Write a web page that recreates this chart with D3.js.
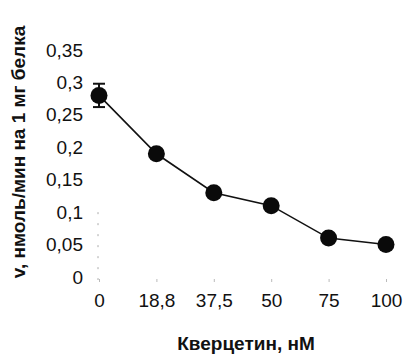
<!DOCTYPE html>
<html lang="ru">
<head>
<meta charset="UTF-8">
<title>Кверцетин</title>
<script src="https://cdn.jsdelivr.net/npm/d3@7/dist/d3.min.js"></script>
<style>
  body { margin: 0; background: #fff; }
  svg { display: block; font-family: "Liberation Sans", Arial, sans-serif; }
  .tick text { font-size: 19px; fill: #111; }
  .title { font-size: 19px; font-weight: bold; fill: #111; }
</style>
</head>
<body>
<svg id="chart"></svg>
<script>
// concentrations (категории по оси X)
const categories = ["0", "18,8", "37,5", "50", "75", "100"];
// скорость, нмоль/мин на 1 мг белка
const values = [0.28, 0.19, 0.13, 0.11, 0.06, 0.05];
const errors = [0.018, 0.006, 0.004, 0.004, 0.004, 0.003];
const yTicks = [0, 0.05, 0.1, 0.15, 0.2, 0.25, 0.3, 0.35];

const width = 405, height = 363;
const svg = d3.select("#chart").attr("width", width).attr("height", height);

const x = d3.scalePoint().domain(categories).range([99, 386]);
const y = d3.scaleLinear().domain([0, 0.35]).range([277, 50]);
const fmt = d => String(d).replace(".", ",");

// y axis - only labels, the line is almost invisible on the scan
const yAxis = svg.append("g")
  .attr("transform", "translate(89,0)")
  .call(d3.axisLeft(y).tickValues(yTicks).tickFormat(fmt).tickSize(0).tickPadding(6));
yAxis.select(".domain").remove();

// faint dotted line left from the scan
svg.append("line")
  .attr("x1", 98).attr("x2", 98)
  .attr("y1", y(0.1)).attr("y2", y(0) + 3)
  .attr("stroke", "#aaa").attr("stroke-width", 1)
  .attr("stroke-dasharray", "2,9");

const xAxis = svg.append("g")
  .attr("transform", "translate(0,282)")
  .call(d3.axisBottom(x).tickSize(0).tickPadding(12));
xAxis.select(".domain").remove();
xAxis.selectAll(".tick").append("line")
  .attr("y1", -3).attr("y2", 0)
  .attr("stroke", "#bbb");

// axis titles
svg.append("text").attr("class", "title")
  .attr("x", 246).attr("y", 350)
  .attr("text-anchor", "middle")
  .text("Кверцетин, нМ");

svg.append("text").attr("class", "title")
  .attr("transform", "translate(25,152) rotate(-90)")
  .attr("text-anchor", "middle")
  .text("v, нмоль/мин на 1 мг белка");

const pts = categories.map((c, i) => ({ c, v: values[i], e: errors[i] }));

svg.append("path")
  .datum(pts)
  .attr("fill", "none")
  .attr("stroke", "#111")
  .attr("stroke-width", 1.6)
  .attr("d", d3.line().x(d => x(d.c)).y(d => y(d.v)));

// error bars
const eb = svg.append("g").selectAll("g").data(pts).enter().append("g")
  .attr("stroke", "#111").attr("stroke-width", 2);
eb.append("line")
  .attr("x1", d => x(d.c)).attr("x2", d => x(d.c))
  .attr("y1", d => y(d.v + d.e)).attr("y2", d => y(d.v - d.e));
eb.append("line")
  .attr("x1", d => x(d.c) - 6).attr("x2", d => x(d.c) + 6)
  .attr("y1", d => y(d.v + d.e)).attr("y2", d => y(d.v + d.e));
eb.append("line")
  .attr("x1", d => x(d.c) - 6).attr("x2", d => x(d.c) + 6)
  .attr("y1", d => y(d.v - d.e)).attr("y2", d => y(d.v - d.e));

svg.append("g").selectAll("circle").data(pts).enter().append("circle")
  .attr("cx", d => x(d.c))
  .attr("cy", d => y(d.v))
  .attr("r", 8.5)
  .attr("fill", "#0a0a0a");
</script>
</body>
</html>
